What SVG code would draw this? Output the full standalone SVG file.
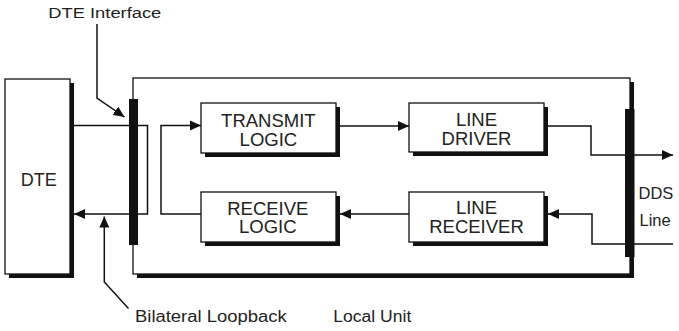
<svg xmlns="http://www.w3.org/2000/svg" width="679" height="331" viewBox="0 0 679 331">
<style>
.box{fill:#fff;stroke:#111;stroke-width:1.3}
.shadow{fill:#111}
.bar{fill:#111}
.conn{fill:none;stroke:#111;stroke-width:1.5}
.lbl{font-family:"Liberation Sans",Arial,sans-serif;fill:#222}
.bt{font-family:"Liberation Sans",Arial,sans-serif;fill:#222;font-size:18.5px;text-anchor:middle}
</style>
<defs>
<marker id="arr" markerUnits="userSpaceOnUse" markerWidth="12" markerHeight="11" refX="11" refY="5" orient="auto" viewBox="0 0 12 10">
<path d="M0,0 L11,5 L0,10 z" fill="#111"/>
</marker>
</defs>
<rect width="679" height="331" fill="#fff"/>

<g id="local-unit">
<rect class="shadow" x="137" y="82" width="497" height="196"/>
<rect class="box" x="133" y="78" width="497" height="196"/>
<text class="lbl" x="333.3" y="321.7" font-size="16" textLength="78" lengthAdjust="spacingAndGlyphs">Local Unit</text>
</g>

<g id="dte">
<rect class="shadow" x="9" y="83" width="65" height="195"/>
<rect class="box" x="5" y="79" width="65" height="195"/>
<text class="lbl" x="20.7" y="186" font-size="18" textLength="36" lengthAdjust="spacingAndGlyphs">DTE</text>
</g>

<g id="transmit-logic">
<rect class="shadow" x="205" y="107" width="135" height="50"/>
<rect class="box" x="201" y="103" width="135" height="50"/>
<text class="bt" x="268.4" y="126.5">TRANSMIT</text>
<text class="bt" x="268.4" y="145.5">LOGIC</text>
</g>

<g id="receive-logic">
<rect class="shadow" x="205" y="196" width="135" height="50"/>
<rect class="box" x="201" y="192" width="135" height="50"/>
<text class="bt" x="267.8" y="214.5">RECEIVE</text>
<text class="bt" x="267.8" y="233">LOGIC</text>
</g>

<g id="line-driver">
<rect class="shadow" x="413" y="107" width="135" height="49"/>
<rect class="box" x="409" y="103" width="135" height="49"/>
<text class="bt" x="476.5" y="126">LINE</text>
<text class="bt" x="476.5" y="145">DRIVER</text>
</g>

<g id="line-receiver">
<rect class="shadow" x="413" y="196" width="135" height="50"/>
<rect class="box" x="409" y="192" width="135" height="50"/>
<text class="bt" x="476.5" y="214">LINE</text>
<text class="bt" x="476.5" y="232.5">RECEIVER</text>
</g>

<g id="connectors">
<path class="conn" d="M74,125.5 H147.5 V214 H74" marker-end="url(#arr)"/>
<path class="conn" d="M201,214 H161 V125.5 H201" marker-end="url(#arr)"/>
<path class="conn" d="M340,126 H409" marker-end="url(#arr)"/>
<path class="conn" d="M548,126 H591 V155 H673" marker-end="url(#arr)"/>
<path class="conn" d="M673,244 H592 V214 H548" marker-end="url(#arr)"/>
<path class="conn" d="M409,214 H340" marker-end="url(#arr)"/>
<path class="conn" d="M97,24 V98 L124.5,117" marker-end="url(#arr)"/>
<path class="conn" d="M128.5,308.5 L104.3,282 V216.5" marker-end="url(#arr)"/>
</g>

<g id="dte-interface">
<rect class="bar" x="129" y="99" width="9" height="146"/>
<text class="lbl" x="48.3" y="18.3" font-size="15.5" textLength="113" lengthAdjust="spacingAndGlyphs">DTE Interface</text>
</g>

<g id="dds-line">
<rect class="bar" x="625" y="109" width="9.5" height="148"/>
<text class="lbl" x="638.5" y="199" font-size="16.5">DDS</text>
<text class="lbl" x="639.5" y="226" font-size="16.5">Line</text>
</g>

<g id="bilateral-loopback">
<text class="lbl" x="135" y="321.7" font-size="16" textLength="151.7" lengthAdjust="spacingAndGlyphs">Bilateral Loopback</text>
</g>
</svg>
